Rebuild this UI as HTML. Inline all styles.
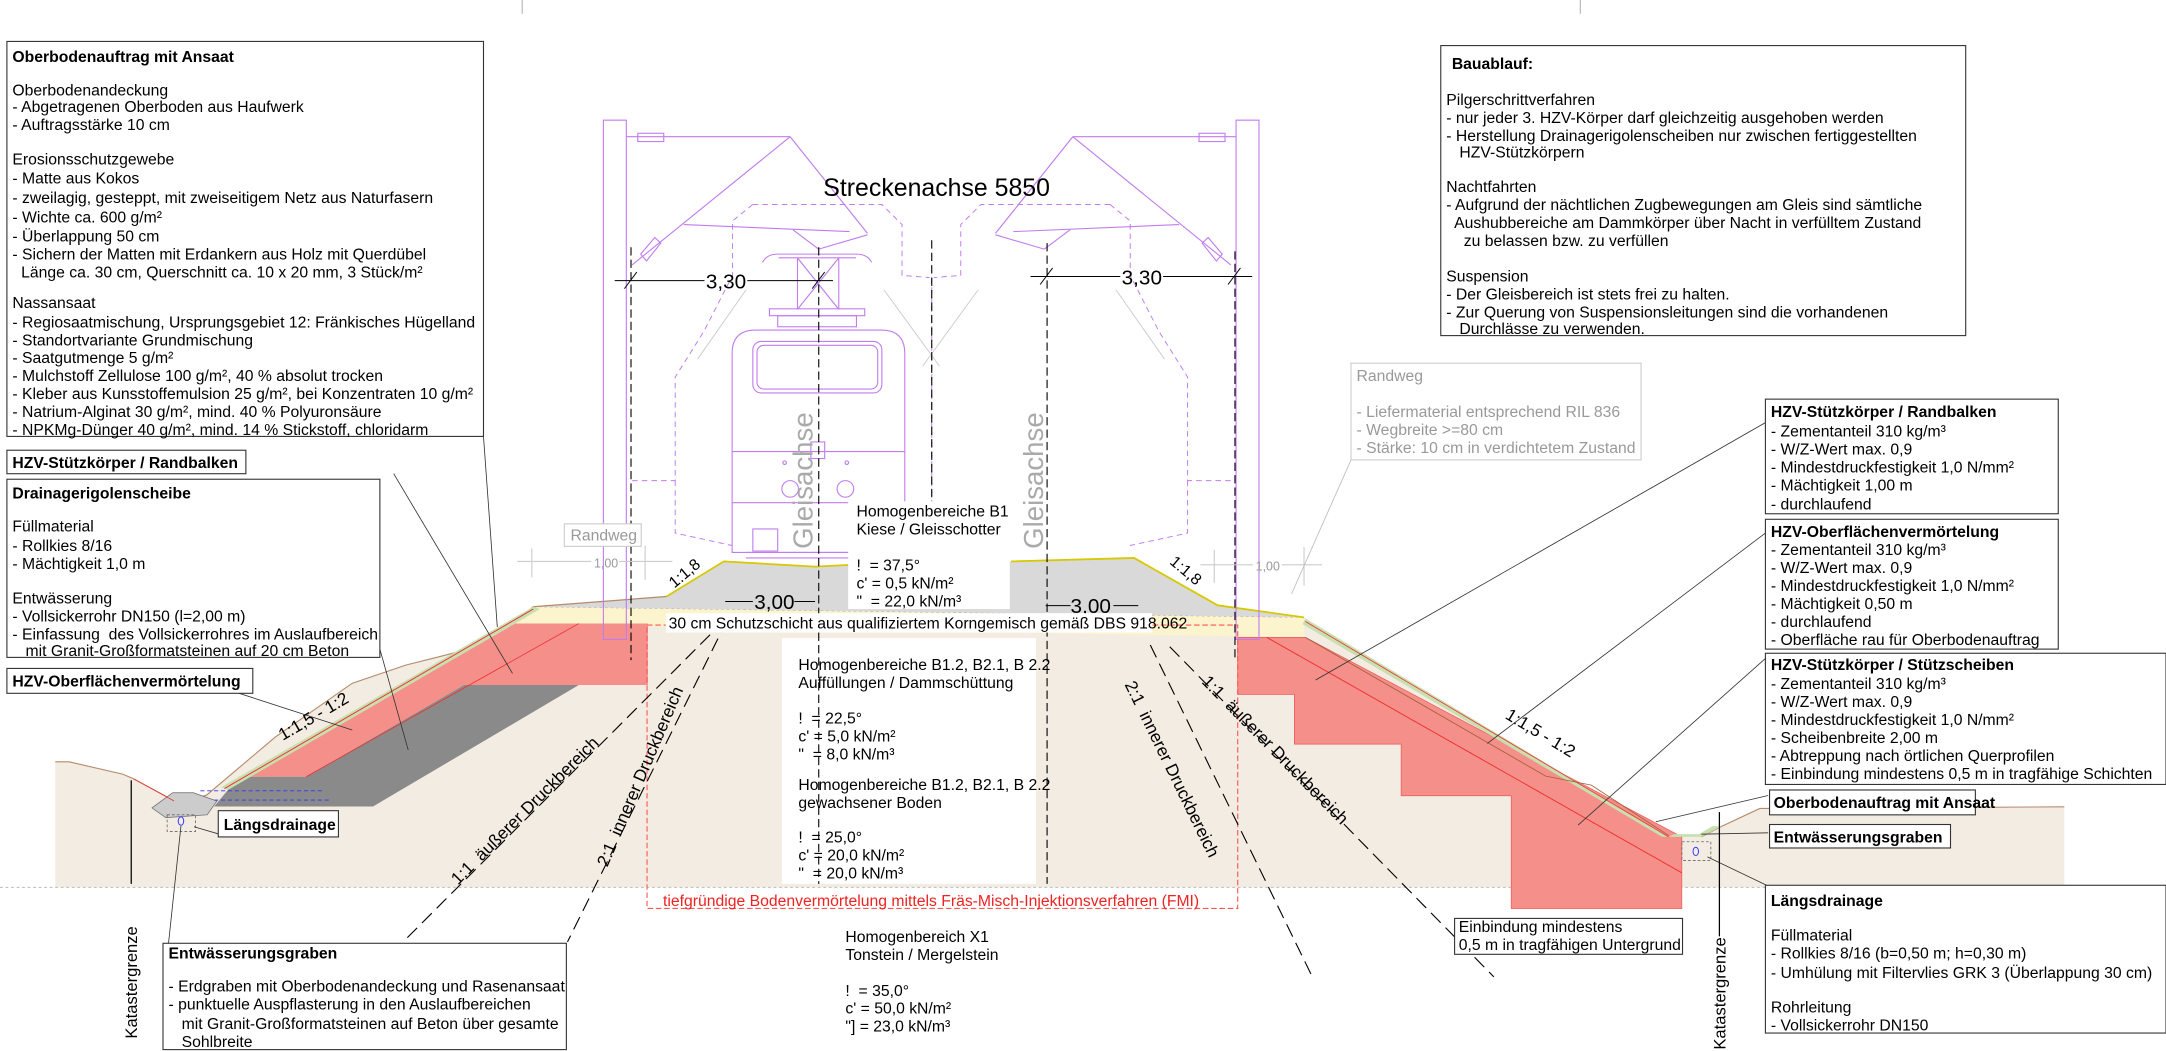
<!DOCTYPE html>
<html><head><meta charset="utf-8"><style>
html,body{margin:0;padding:0;background:#fff;}
svg{display:block;font-family:"Liberation Sans",Arial,sans-serif;font-size:11.4px;}
text{white-space:pre;}
.b{font-weight:bold;}
.g{fill:#999;}
</style></head><body>
<svg width="2166" height="1051" viewBox="0 0 1568 761" preserveAspectRatio="none" xmlns="http://www.w3.org/2000/svg" xml:space="preserve">
<rect width="1568" height="761" fill="#fff"/>
<line x1="378" y1="0" x2="378" y2="10" stroke="#aaa" stroke-width="0.7"/>
<line x1="1144" y1="0" x2="1144" y2="10" stroke="#aaa" stroke-width="0.7"/>

<!-- ground -->
<polygon points="40,551.6 50,551.6 88.7,560.5 96,563.6 127.4,580.5 134.8,580.5 149.6,575.7 199.5,533.5 254.9,494.8 293.7,481.6 317.7,475.6 354.6,466 386,439.3 944,447 1208,606 1231.6,606 1245.7,598.6 1274,585.4 1494.4,584.2 1494.4,642.5 40,642.5" fill="#f3ece2"/>
<polyline points="40,551.6 50,551.6 88.7,560.5 96,563.6 127.4,580.5 134.8,580.5 149.6,575.7 199.5,533.5 254.9,494.8 293.7,481.6 317.7,475.6 354.6,466 386,439.3" fill="none" stroke="#b48a6a" stroke-width="0.8"/>
<polyline points="1231.6,606 1245.7,598.6 1274,585.4 1494.4,584.2" fill="none" stroke="#b48a6a" stroke-width="0.8"/>
<line x1="0" y1="642.5" x2="1568" y2="642.5" stroke="#bbb" stroke-width="0.7" stroke-dasharray="2,2"/>

<!-- protective layer -->
<polygon points="386,439.3 944,447 944,461.5 373,452" fill="#fcf4cc"/>
<line x1="386" y1="439.3" x2="944" y2="447" stroke="#999" stroke-width="0.5" stroke-dasharray="2,2"/>
<!-- ballast -->
<polygon points="386,439.3 482.5,431.9 524,406.5 590,410.3 615.5,409 732,406.5 821,404 881.5,438.3 944,447" fill="#d9d9d9"/>
<polyline points="386,439.3 482.5,431.9" fill="none" stroke="#b48a6a" stroke-width="0.9"/>
<polyline points="482.5,431.9 524,406.5 590,410.3 615.5,409" fill="none" stroke="#d8c800" stroke-width="1.3"/>
<polyline points="732,406.5 821,404 881.5,438.3 944,447" fill="none" stroke="#d8c800" stroke-width="1.3"/>

<!-- left HZV -->
<polygon points="162.5,571 373,451.5 469,451.5 469,496 336,496 221.6,562.4 173,562.4" fill="#f58f8a"/>
<polygon points="173,562.4 221.6,562.4 336,496 419,496 270,584 155,584" fill="#8a8a8a"/>
<polygon points="160,570 386,439.3 391,441 165,572" fill="#c8e0b0"/>
<line x1="162.5" y1="571" x2="386" y2="441" stroke="#e33" stroke-width="0.7"/>
<line x1="221.6" y1="562.4" x2="419" y2="451.5" stroke="#e33" stroke-width="0.6"/>
<line x1="145" y1="572.6" x2="235" y2="572.6" stroke="#33f" stroke-width="0.7" stroke-dasharray="3,2"/>
<line x1="145" y1="579.3" x2="238" y2="579.3" stroke="#33f" stroke-width="0.7" stroke-dasharray="3,2"/>
<polygon points="110,585 125,574 140,574 157,580 150,590 120,592" fill="#ccc" stroke="#666" stroke-width="0.5"/>
<rect x="121" y="590" width="20.5" height="12" fill="none" stroke="#666" stroke-width="0.6" stroke-dasharray="2,1.5"/>
<ellipse cx="131" cy="594.5" rx="2" ry="3" fill="none" stroke="#33f" stroke-width="0.7"/>
<line x1="97" y1="564" x2="126" y2="580" stroke="#e33" stroke-width="0.6"/>

<!-- right HZV -->
<polygon points="896,461.5 945,461.5 1217.5,605.9 1217.5,657.8 1094,657.8 1094,576.2 1014.3,576.2 1014.3,538.8 937,538.8 937,502.8 896,502.8" fill="#f58f8a" stroke="#e55" stroke-width="0.5"/>
<polygon points="945,447.8 1208,605.9 1203,605.9 943,452" fill="#c8e0b0"/>
<line x1="945" y1="450" x2="1208" y2="606" stroke="#e33" stroke-width="0.6"/>
<line x1="917" y1="461.5" x2="1217.5" y2="632" stroke="#e33" stroke-width="0.7"/>
<polyline points="945,461.5 1119,562 1152,568.5 1208,605" fill="none" stroke="#a0603a" stroke-width="0.6"/>
<polygon points="1208,606 1231.6,606 1245.7,598.6 1240,598 1230,604 1212,604" fill="#c8e0b0"/>
<rect x="1217.5" y="609.5" width="21" height="13.5" fill="none" stroke="#666" stroke-width="0.6" stroke-dasharray="2,1.5"/>
<ellipse cx="1227.6" cy="616.5" rx="2" ry="3" fill="none" stroke="#33f" stroke-width="0.7"/>

<!-- FMI -->
<rect x="468.4" y="452.6" width="427.6" height="205.2" fill="none" stroke="#f55" stroke-width="0.8" stroke-dasharray="4,2"/>
<rect x="566" y="462" width="184" height="178" fill="#fff"/>

<!-- catenary -->
<g stroke="#c07cf0" stroke-width="0.8" fill="none">
<rect x="436.8" y="87" width="16.6" height="376"/>
<rect x="894.8" y="87" width="16.6" height="376"/>
<line x1="453.4" y1="99" x2="572" y2="99"/>
<line x1="572" y1="99" x2="628" y2="169"/>
<line x1="457.6" y1="191.8" x2="572" y2="99"/>
<line x1="495" y1="162.6" x2="615" y2="167.7"/>
<line x1="574" y1="166.4" x2="592.7" y2="180.4"/>
<line x1="592.7" y1="180.4" x2="628" y2="170"/>
<line x1="894.8" y1="99" x2="776.6" y2="99"/>
<line x1="776.6" y1="99" x2="720.6" y2="169"/>
<line x1="891" y1="191.8" x2="776.6" y2="99"/>
<line x1="853.6" y1="162.6" x2="733.6" y2="167.7"/>
<line x1="774.6" y1="166.4" x2="755.9" y2="180.4"/>
<line x1="755.9" y1="180.4" x2="720.6" y2="170"/>
<rect x="461.7" y="96.5" width="18.8" height="6"/>
<rect x="868" y="96.5" width="18.8" height="6"/>
<polygon points="463.8,184 474,172 478.4,176 468,189"/>
<polygon points="884.8,184 874.6,172 870.2,176 880.6,189"/>
<!-- pantograph -->
<line x1="563.6" y1="186.7" x2="619.7" y2="186.7"/>
<line x1="577.3" y1="186.7" x2="577.3" y2="224"/>
<line x1="607.2" y1="186.7" x2="607.2" y2="224"/>
<line x1="577.3" y1="186.7" x2="607.2" y2="224"/>
<line x1="607.2" y1="186.7" x2="577.3" y2="224"/>
<path d="M552,190 Q555,184 563,184 L620,184 Q628,184 631,190"/>
<rect x="557" y="223.6" width="69" height="5"/>
<rect x="563" y="228.6" width="57" height="8"/>
<!-- train -->
<path d="M530,400 L530,256 Q530,239 547,239 L638,239 Q655,239 655,256 L655,400 Z"/>
<rect x="545" y="247.2" width="93.4" height="37.3" rx="6"/>
<rect x="548" y="250" width="87.4" height="31.7" rx="5"/>
<line x1="530" y1="327" x2="655" y2="327"/>
<line x1="530" y1="364" x2="655" y2="364"/>
<circle cx="572" cy="354" r="6"/>
<circle cx="612" cy="354" r="6"/>
<circle cx="568" cy="335" r="1.3"/>
<circle cx="613" cy="335" r="1.3"/>
<rect x="587" y="320" width="10" height="12"/>
<rect x="545" y="383" width="18" height="16"/>
<line x1="540" y1="400" x2="640" y2="400"/>
<line x1="540" y1="404" x2="640" y2="404"/>
</g>
<!-- clearance dashed profiles -->
<g stroke="#c07cf0" stroke-width="0.7" fill="none" stroke-dasharray="4,3">
<polyline points="544.9,148.1 638.4,148.1 653,162.6 653,199.4 673,201"/>
<polyline points="544.9,148.1 530.3,160 530.3,199.4 509.5,240 488.8,273 488.8,348 457.6,348"/>
<polyline points="488.8,348 488.8,386 530,395"/>
<polyline points="803.6,148.1 710.1,148.1 695.5,162.6 695.5,199.4 676,201"/>
<polyline points="803.6,148.1 818.2,160 818.2,199.4 839,240 859.7,273 859.7,348 890.9,348"/>
<polyline points="859.7,348 859.7,386 818,395"/>
<line x1="674.5" y1="201" x2="674.5" y2="400"/>
</g>
<g stroke="#ccc" stroke-width="0.7" fill="none">
<line x1="540" y1="210" x2="505" y2="260"/>
<line x1="640" y1="210" x2="680" y2="265"/>
<line x1="808" y1="210" x2="843" y2="260"/>
<line x1="708" y1="210" x2="668" y2="265"/>
</g>
<!-- axis dashed -->
<g stroke="#000" stroke-width="0.8" stroke-dasharray="6,3" fill="none">
<line x1="456.8" y1="179" x2="456.8" y2="478"/>
<line x1="592.7" y1="179" x2="592.7" y2="640"/>
<line x1="674.5" y1="174" x2="674.5" y2="400"/>
<line x1="758" y1="176" x2="758" y2="640"/>
<line x1="894" y1="182" x2="894" y2="478"/>
</g>

<!-- druckbereich lines -->
<g stroke="#000" stroke-width="0.8" stroke-dasharray="10,5" fill="none">
<line x1="524.6" y1="449" x2="291.8" y2="682"/>
<line x1="526.4" y1="449" x2="410.8" y2="682"/>
<line x1="832.7" y1="467" x2="950" y2="707.3"/>
<line x1="846.8" y1="468.3" x2="1081.4" y2="707.3"/>
</g>
<text transform="translate(385,592) rotate(-45)" text-anchor="middle" font-size="12.5" dy="-3">1:1  äußerer Druckbereich</text>
<text transform="translate(470,565) rotate(-66.8)" text-anchor="middle" font-size="12.5" dy="-3">2:1  innerer Druckbereich</text>
<text transform="translate(842,560) rotate(64)" text-anchor="middle" font-size="12.5" dy="-3">2:1  innerer Druckbereich</text>
<text transform="translate(918,548) rotate(45.6)" text-anchor="middle" font-size="12.5" dy="-3">1:1  äußerer Druckbereich</text>

<!-- slope labels -->
<text transform="translate(230,524) rotate(-30.3)" text-anchor="middle" font-size="12.5" dy="-2">1:1,5 - 1:2</text>
<text transform="translate(1112,536) rotate(31)" text-anchor="middle" font-size="12.5" dy="-2">1:1,5 - 1:2</text>
<text transform="translate(498,418) rotate(-40)" text-anchor="middle" font-size="11.5">1:1,8</text>
<text transform="translate(856,416) rotate(40)" text-anchor="middle" font-size="11.5">1:1,8</text>

<!-- dims -->
<g stroke="#000" stroke-width="0.7">
<line x1="445" y1="203.2" x2="510" y2="203.2"/><line x1="541" y1="203.2" x2="603" y2="203.2"/>
<line x1="452" y1="209" x2="461" y2="197"/><line x1="588" y1="209" x2="597" y2="197"/>
<line x1="746" y1="200.2" x2="811" y2="200.2"/><line x1="842" y1="200.2" x2="906.5" y2="200.2"/>
<line x1="753" y1="206" x2="762" y2="194"/><line x1="889" y1="206" x2="898" y2="194"/>
<line x1="525" y1="435.5" x2="545" y2="435.5"/><line x1="575" y1="435.5" x2="590" y2="435.5"/>
<line x1="757" y1="438.5" x2="775" y2="438.5"/><line x1="806" y1="438.5" x2="824" y2="438.5"/>
</g>
<text x="511" y="209" font-size="15">3,30</text>
<text x="812" y="206" font-size="15">3,30</text>
<text x="546" y="441" font-size="15">3,00</text>
<text x="775" y="444" font-size="15">3,00</text>
<g stroke="#ccc" stroke-width="0.8">
<line x1="374.5" y1="406.5" x2="428" y2="406.5"/><line x1="448" y1="406.5" x2="486.7" y2="406.5"/>
<line x1="385" y1="397" x2="385" y2="418"/><line x1="467" y1="395" x2="467" y2="420"/>
<line x1="869" y1="409" x2="907" y2="409"/><line x1="928" y1="409" x2="957" y2="409"/>
<line x1="879" y1="398" x2="879" y2="422"/><line x1="944" y1="396" x2="944" y2="424"/>
</g>
<text x="430" y="411" class="g" font-size="9">1,00</text>
<text x="909" y="413" class="g" font-size="9">1,00</text>

<text x="596" y="142" font-size="18">Streckenachse 5850</text>
<text transform="translate(588,348) rotate(-90)" text-anchor="middle" font-size="20" fill="#aaa">Gleisachse</text>
<text transform="translate(755,348) rotate(-90)" text-anchor="middle" font-size="20" fill="#aaa">Gleisachse</text>

<rect x="408.5" y="379.3" width="55.7" height="16.3" fill="#fff" stroke="#ccc" stroke-width="0.8"/>
<text x="413" y="391.5" class="g">Randweg</text>

<!-- B1 text box -->
<rect x="614" y="363" width="117" height="78" fill="#fff"/>
<text x="620" y="374">Homogenbereiche B1</text>
<text x="620" y="387">Kiese / Gleisschotter</text>
<text x="620" y="413">!  = 37,5°</text>
<text x="620" y="426">c' = 0,5 kN/m²</text>
<text x="620" y="439">"  = 22,0 kN/m³</text>
<rect x="482" y="444" width="352" height="14" fill="#fff"/>
<text x="484" y="455">30 cm Schutzschicht aus qualifiziertem Korngemisch gemäß DBS 918.062</text>
<text x="578" y="485">Homogenbereiche B1.2, B2.1, B 2.2</text>
<text x="578" y="498">Auffüllungen / Dammschüttung</text>
<text x="578" y="524">!  = 22,5°</text>
<text x="578" y="537">c' = 5,0 kN/m²</text>
<text x="578" y="550">"  = 8,0 kN/m³</text>
<text x="578" y="572">Homogenbereiche B1.2, B2.1, B 2.2</text>
<text x="578" y="585">gewachsener Boden</text>
<text x="578" y="610">!  = 25,0°</text>
<text x="578" y="623">c' = 20,0 kN/m²</text>
<text x="578" y="636">"  = 20,0 kN/m³</text>
<text x="480" y="656" fill="#e22">tiefgründige Bodenvermörtelung mittels Fräs-Misch-Injektionsverfahren (FMI)</text>
<text x="612" y="682">Homogenbereich X1</text>
<text x="612" y="695">Tonstein / Mergelstein</text>
<text x="612" y="721">!  = 35,0°</text>
<text x="612" y="734">c' = 50,0 kN/m²</text>
<text x="612" y="747">"] = 23,0 kN/m³</text>

<!-- leaders -->
<g stroke="#333" stroke-width="0.6" fill="none">
<line x1="285" y1="343" x2="371" y2="487.6"/>
<line x1="350" y1="316" x2="360" y2="454"/>
<line x1="275" y1="470" x2="295.5" y2="543"/>
<line x1="170" y1="501" x2="255" y2="528.6"/>
<line x1="158.8" y1="604" x2="140.4" y2="598.6"/>
<line x1="122" y1="683" x2="131" y2="598"/>
<line x1="1278" y1="306" x2="952.4" y2="492.4"/>
<line x1="1278" y1="386" x2="1076.7" y2="538.3"/>
<line x1="1280" y1="475" x2="1142.4" y2="597.4"/>
<line x1="1280" y1="576" x2="1198.7" y2="595"/>
<line x1="1280" y1="603" x2="1231.6" y2="604"/>
<line x1="1283" y1="643" x2="1236" y2="620.4"/>
</g>
<line x1="978" y1="333" x2="935" y2="430" stroke="#bbb" stroke-width="0.6"/>
<line x1="95" y1="565" x2="95" y2="640" stroke="#000" stroke-width="0.9"/>
<text transform="translate(99,752) rotate(-90)" font-size="12">Katastergrenze</text>
<line x1="1244.7" y1="588" x2="1244.7" y2="678" stroke="#000" stroke-width="0.9"/>
<text transform="translate(1249,760) rotate(-90)" font-size="12">Katastergrenze</text>

<!-- boxes -->
<g fill="#fff" stroke="#333" stroke-width="0.8">
<rect x="5" y="30" width="345" height="286"/>
<rect x="5" y="326" width="173" height="17"/>
<rect x="5" y="347" width="270" height="129"/>
<rect x="5" y="484" width="178" height="18"/>
<rect x="158" y="587" width="87" height="19"/>
<rect x="118" y="683" width="292" height="77"/>
<rect x="1043" y="33" width="380" height="210"/>
<rect x="1278" y="289" width="212" height="83"/>
<rect x="1278" y="376" width="212" height="94"/>
<rect x="1278" y="473" width="290" height="95"/>
<rect x="1281" y="572" width="149" height="18"/>
<rect x="1281" y="597" width="131" height="17"/>
<rect x="1278" y="641" width="290" height="107"/>
<rect x="1053" y="665" width="165" height="26"/>
</g>
<rect x="978" y="263" width="210" height="70" fill="#fff" stroke="#ccc" stroke-width="0.8"/>

<text x="9" y="45" class="b">Oberbodenauftrag mit Ansaat</text>
<text x="9" y="69">Oberbodenandeckung</text>
<text x="9" y="81">- Abgetragenen Oberboden aus Haufwerk</text>
<text x="9" y="94">- Auftragsstärke 10 cm</text>
<text x="9" y="119">Erosionsschutzgewebe</text>
<text x="9" y="133">- Matte aus Kokos</text>
<text x="9" y="147">- zweilagig, gesteppt, mit zweiseitigem Netz aus Naturfasern</text>
<text x="9" y="161">- Wichte ca. 600 g/m²</text>
<text x="9" y="175">- Überlappung 50 cm</text>
<text x="9" y="188">- Sichern der Matten mit Erdankern aus Holz mit Querdübel</text>
<text x="9" y="201">  Länge ca. 30 cm, Querschnitt ca. 10 x 20 mm, 3 Stück/m²</text>
<text x="9" y="223">Nassansaat</text>
<text x="9" y="237">- Regiosaatmischung, Ursprungsgebiet 12: Fränkisches Hügelland</text>
<text x="9" y="250">- Standortvariante Grundmischung</text>
<text x="9" y="263">- Saatgutmenge 5 g/m²</text>
<text x="9" y="276">- Mulchstoff Zellulose 100 g/m², 40 % absolut trocken</text>
<text x="9" y="289">- Kleber aus Kunsstoffemulsion 25 g/m², bei Konzentraten 10 g/m²</text>
<text x="9" y="302">- Natrium-Alginat 30 g/m², mind. 40 % Polyuronsäure</text>
<text x="9" y="315">- NPKMg-Dünger 40 g/m², mind. 14 % Stickstoff, chloridarm</text>

<text x="9" y="339" class="b">HZV-Stützkörper / Randbalken</text>
<text x="9" y="361" class="b">Drainagerigolenscheibe</text>
<text x="9" y="385">Füllmaterial</text>
<text x="9" y="399">- Rollkies 8/16</text>
<text x="9" y="412">- Mächtigkeit 1,0 m</text>
<text x="9" y="437">Entwässerung</text>
<text x="9" y="450">- Vollsickerrohr DN150 (l=2,00 m)</text>
<text x="9" y="463">- Einfassung  des Vollsickerrohres im Auslaufbereich</text>
<text x="9" y="475">   mit Granit-Großformatsteinen auf 20 cm Beton</text>
<text x="9" y="497" class="b">HZV-Oberflächenvermörtelung</text>
<text x="162" y="601" class="b">Längsdrainage</text>
<text x="122" y="694" class="b">Entwässerungsgraben</text>
<text x="122" y="718">- Erdgraben mit Oberbodenandeckung und Rasenansaat</text>
<text x="122" y="731">- punktuelle Auspflasterung in den Auslaufbereichen</text>
<text x="122" y="745">   mit Granit-Großformatsteinen auf Beton über gesamte</text>
<text x="122" y="758">   Sohlbreite</text>

<text x="1051" y="50" class="b">Bauablauf:</text>
<text x="1047" y="76">Pilgerschrittverfahren</text>
<text x="1047" y="89">- nur jeder 3. HZV-Körper darf gleichzeitig ausgehoben werden</text>
<text x="1047" y="102">- Herstellung Drainagerigolenscheiben nur zwischen fertiggestellten</text>
<text x="1047" y="114">   HZV-Stützkörpern</text>
<text x="1047" y="139">Nachtfahrten</text>
<text x="1047" y="152">- Aufgrund der nächtlichen Zugbewegungen am Gleis sind sämtliche</text>
<text x="1047" y="165">  Aushubbereiche am Dammkörper über Nacht in verfülltem Zustand</text>
<text x="1047" y="178">    zu belassen bzw. zu verfüllen</text>
<text x="1047" y="204">Suspension</text>
<text x="1047" y="217">- Der Gleisbereich ist stets frei zu halten.</text>
<text x="1047" y="230">- Zur Querung von Suspensionsleitungen sind die vorhandenen</text>
<text x="1047" y="242">   Durchlässe zu verwenden.</text>

<text x="982" y="276" class="g">Randweg</text>
<text x="982" y="302" class="g">- Liefermaterial entsprechend RIL 836</text>
<text x="982" y="315" class="g">- Wegbreite &gt;=80 cm</text>
<text x="982" y="328" class="g">- Stärke: 10 cm in verdichtetem Zustand</text>

<text x="1282" y="302" class="b">HZV-Stützkörper / Randbalken</text>
<text x="1282" y="316">- Zementanteil 310 kg/m³</text>
<text x="1282" y="329">- W/Z-Wert max. 0,9</text>
<text x="1282" y="342">- Mindestdruckfestigkeit 1,0 N/mm²</text>
<text x="1282" y="355">- Mächtigkeit 1,00 m</text>
<text x="1282" y="369">- durchlaufend</text>
<text x="1282" y="389" class="b">HZV-Oberflächenvermörtelung</text>
<text x="1282" y="402">- Zementanteil 310 kg/m³</text>
<text x="1282" y="415">- W/Z-Wert max. 0,9</text>
<text x="1282" y="428">- Mindestdruckfestigkeit 1,0 N/mm²</text>
<text x="1282" y="441">- Mächtigkeit 0,50 m</text>
<text x="1282" y="454">- durchlaufend</text>
<text x="1282" y="467">- Oberfläche rau für Oberbodenauftrag</text>
<text x="1282" y="485" class="b">HZV-Stützkörper / Stützscheiben</text>
<text x="1282" y="499">- Zementanteil 310 kg/m³</text>
<text x="1282" y="512">- W/Z-Wert max. 0,9</text>
<text x="1282" y="525">- Mindestdruckfestigkeit 1,0 N/mm²</text>
<text x="1282" y="538">- Scheibenbreite 2,00 m</text>
<text x="1282" y="551">- Abtreppung nach örtlichen Querprofilen</text>
<text x="1282" y="564">- Einbindung mindestens 0,5 m in tragfähige Schichten</text>
<text x="1284" y="585" class="b">Oberbodenauftrag mit Ansaat</text>
<text x="1284" y="610" class="b">Entwässerungsgraben</text>
<text x="1282" y="656" class="b">Längsdrainage</text>
<text x="1282" y="681">Füllmaterial</text>
<text x="1282" y="694">- Rollkies 8/16 (b=0,50 m; h=0,30 m)</text>
<text x="1282" y="708">- Umhülung mit Filtervlies GRK 3 (Überlappung 30 cm)</text>
<text x="1282" y="733">Rohrleitung</text>
<text x="1282" y="746">- Vollsickerrohr DN150</text>
<text x="1056" y="675">Einbindung mindestens</text>
<text x="1056" y="688">0,5 m in tragfähigen Untergrund</text>
</svg>
</body></html>
